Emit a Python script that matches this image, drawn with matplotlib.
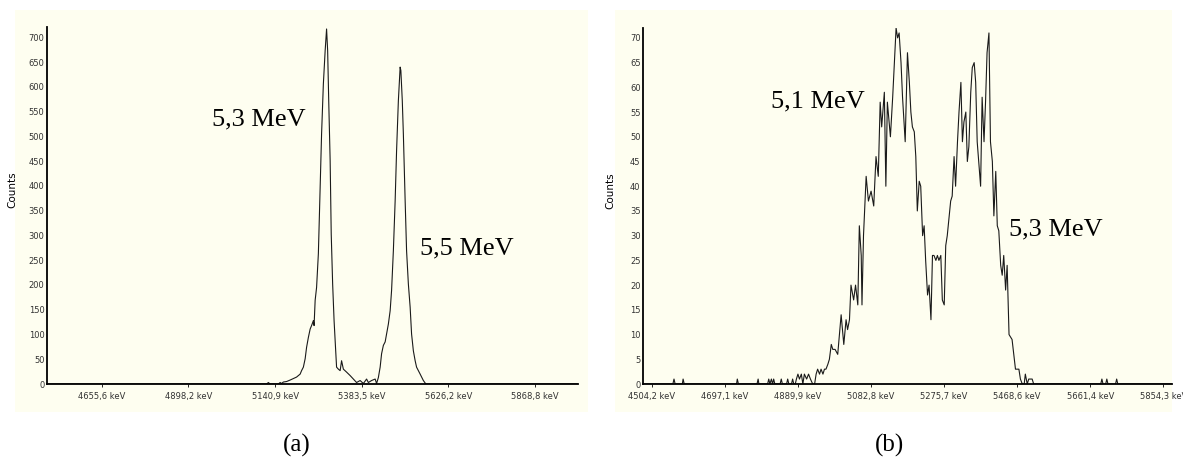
# Alpha spectra, panels (a) and (b)
import matplotlib.pyplot as plt
from matplotlib.patches import Rectangle

# panel (a): energy in keV and counts
energy_a = [4503, 5117, 5122, 5127, 5150, 5155, 5159, 5164, 5173, 5183, 5192, 5201,
            5211, 5215, 5220, 5225, 5229, 5234, 5239, 5243, 5248, 5250, 5253, 5257,
            5262, 5267, 5271, 5276, 5281, 5285, 5288, 5291, 5295, 5298, 5302, 5306,
            5310, 5313, 5318, 5323, 5327, 5332, 5341, 5351, 5360, 5369, 5379, 5388,
            5397, 5402, 5411, 5421, 5425, 5430, 5435, 5439, 5444, 5449, 5453, 5458,
            5463, 5467, 5472, 5477, 5481, 5486, 5491, 5493, 5497, 5500, 5505, 5509,
            5514, 5519, 5523, 5528, 5533, 5537, 5547, 5556, 5563, 5989]
counts_a = [0, 0, 3, 0, 0, 3, 1, 4, 5, 8, 11, 14,
            20, 27, 34, 51, 74, 94, 111, 118, 128, 118, 169, 195,
            263, 397, 505, 606, 673, 717, 673, 572, 451, 303, 202, 128,
            74, 34, 30, 27, 47, 30, 24, 17, 10, 3, 7, 1,
            10, 3, 7, 10, 1, 13, 34, 61, 78, 85, 101, 121,
            148, 189, 269, 370, 471, 572, 640, 633, 572, 505, 370, 269,
            202, 155, 101, 67, 47, 34, 20, 7, 0, 0]

# panel (b)
energy_b = [4482, 4560, 4563, 4566, 4585, 4587, 4590, 4728, 4730, 4733, 4782, 4785,
            4787, 4810, 4813, 4816, 4820, 4823, 4826, 4829, 4843, 4846, 4849, 4860,
            4863, 4866, 4873, 4876, 4879, 4883, 4886, 4890, 4894, 4899, 4903, 4907,
            4913, 4918, 4923, 4929, 4934, 4938, 4942, 4947, 4951, 4956, 4960, 4964,
            4969, 4973, 4978, 4982, 4988, 4995, 5004, 5011, 5017, 5021, 5026, 5030,
            5037, 5042, 5048, 5052, 5057, 5059, 5063, 5070, 5076, 5083, 5090, 5096,
            5102, 5107, 5111, 5118, 5122, 5126, 5134, 5140, 5149, 5153, 5157, 5162,
            5166, 5173, 5179, 5184, 5188, 5192, 5197, 5201, 5205, 5210, 5214, 5219,
            5223, 5227, 5232, 5236, 5241, 5245, 5249, 5254, 5258, 5262, 5267, 5271,
            5276, 5280, 5284, 5289, 5293, 5297, 5302, 5306, 5311, 5315, 5320, 5324,
            5328, 5333, 5337, 5341, 5346, 5350, 5355, 5359, 5363, 5368, 5372, 5376,
            5381, 5385, 5389, 5394, 5398, 5403, 5407, 5412, 5416, 5420, 5425, 5429,
            5433, 5438, 5442, 5447, 5455, 5464, 5473, 5477, 5482, 5487, 5490, 5495,
            5499, 5504, 5508, 5512, 5689, 5692, 5695, 5702, 5705, 5708, 5728, 5731,
            5734, 5877]
counts_b = [0, 0, 1, 0, 0, 1, 0, 0, 1, 0, 0, 1,
            0, 0, 1, 0, 1, 0, 1, 0, 0, 1, 0, 0,
            1, 0, 0, 1, 0, 0, 1, 2, 1, 2, 0, 2,
            1, 2, 1, 0, 0, 2, 3, 2, 3, 2, 3, 3,
            4, 5, 8, 7, 7, 6, 14, 8, 13, 11, 13, 20,
            17, 20, 16, 32, 26, 16, 30, 42, 37, 39, 36, 46,
            42, 57, 52, 59, 40, 57, 50, 58, 72, 70, 71, 65,
            58, 49, 67, 61, 55, 52, 51, 46, 35, 41, 40, 30,
            32, 25, 18, 20, 13, 26, 26, 25, 26, 25, 26, 17,
            16, 28, 30, 34, 37, 38, 46, 40, 49, 55, 61, 49,
            53, 55, 45, 48, 59, 64, 65, 61, 49, 44, 40, 58,
            49, 57, 67, 71, 49, 45, 34, 43, 32, 31, 24, 22,
            26, 19, 24, 10, 9, 3, 3, 1, 0, 0, 2, 0,
            1, 1, 1, 0, 0, 1, 0, 0, 1, 0, 0, 1,
            0, 0]

ticks_a = [4655.6, 4898.2, 5140.9, 5383.5, 5626.2, 5868.8]
ticks_b = [4504.2, 4697.1, 4889.9, 5082.8, 5275.7, 5468.6, 5661.4, 5854.3]
yticks_a = list(range(0, 701, 50))
yticks_b = list(range(0, 71, 5))

W, H = 1183, 465
fig = plt.figure(figsize=(W / 100, H / 100), dpi=100)
cream = '#fefef0'

# cream panel backgrounds (pixel boxes of the screenshots)
for x0, x1 in [(15, 588), (615, 1172)]:
    fig.patches.append(Rectangle((x0 / W, (H - 412) / H), (x1 - x0) / W, 402 / H,
                                 transform=fig.transFigure, facecolor=cream,
                                 edgecolor='none', zorder=-5))


def spectrum(ax, energy, counts, xt, yt, xlim, ylim):
    ax.set_facecolor('none')
    ax.plot(energy, counts, color='#1a1a1a', lw=0.8)
    ax.set_xlim(xlim)
    ax.set_ylim(ylim)
    ax.set_xticks(xt)
    ax.set_xticklabels([('%.1f keV' % t).replace('.', ',') for t in xt])
    ax.set_yticks(yt)
    for s in ['top', 'right']:
        ax.spines[s].set_visible(False)
    for s in ['left', 'bottom']:
        ax.spines[s].set_linewidth(1.3)
    ax.tick_params(axis='x', length=2.5, width=0.6, pad=3, labelsize=6, labelcolor='#333333')
    ax.tick_params(axis='y', length=0, pad=2, labelsize=6, labelcolor='#333333')
    ax.set_ylabel('Counts', fontsize=7.5)


ax1 = fig.add_axes([47.3 / W, 81 / H, 530.7 / W, 357 / H])
spectrum(ax1, energy_a, counts_a, ticks_a, yticks_a, (4503, 5989), (0, 721))
ax1.yaxis.set_label_coords(-0.057, 0.543)

ax2 = fig.add_axes([643.3 / W, 81 / H, 528.7 / W, 356 / H])
spectrum(ax2, energy_b, counts_b, ticks_b, yticks_b, (4482, 5877), (0, 72))
ax2.yaxis.set_label_coords(-0.052, 0.543)

serif = 'Liberation Serif'
ax1.text(0.310, 0.7255, '5,3 MeV', transform=ax1.transAxes, fontsize=19, family=serif)
ax1.text(0.702, 0.364, '5,5 MeV', transform=ax1.transAxes, fontsize=19, family=serif)
ax2.text(0.241, 0.776, '5,1 MeV', transform=ax2.transAxes, fontsize=19, family=serif)
ax2.text(0.692, 0.417, '5,3 MeV', transform=ax2.transAxes, fontsize=19, family=serif)

fig.text(297 / W, (H - 445) / H, '(a)', ha='center', va='center', fontsize=18, family=serif)
fig.text(889 / W, (H - 445) / H, '(b)', ha='center', va='center', fontsize=18, family=serif)

fig.savefig('out.png', dpi=100)
